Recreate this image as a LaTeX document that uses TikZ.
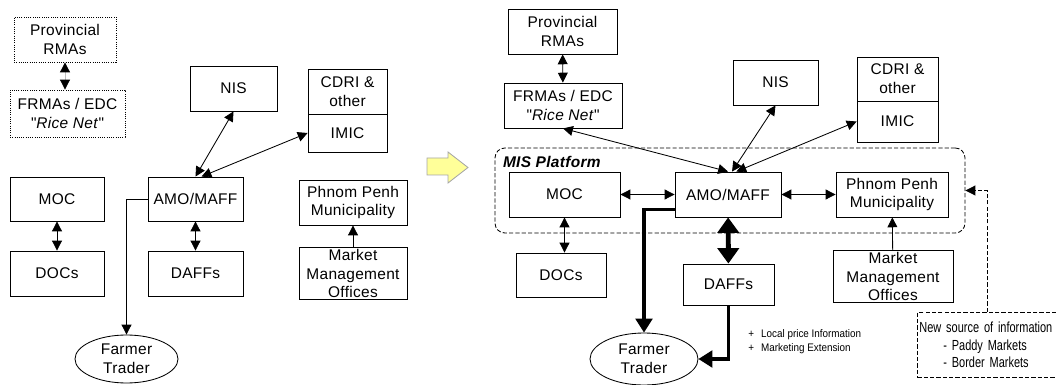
\documentclass[tikz,border=0pt]{standalone}
\usepackage{fontspec}
\setmainfont{Liberation Sans}[LetterSpace=2]
\newfontfamily\narrowfont{Liberation Sans}[FakeStretch=0.75]
\newfontfamily\notefont{Liberation Sans}[FakeStretch=0.9]
\usepackage{tikz}
\usetikzlibrary{arrows.meta, calc, positioning, shapes.geometric}
\definecolor{arrowyellow}{HTML}{FFFF99}
\newcommand{\boxfont}{\fontsize{11}{13.4}\selectfont}

\begin{document}
\begin{tikzpicture}[x=0.025cm, y=-0.025cm, line width=0.6pt,
  >={Triangle[length=7pt,width=7pt]},
  box/.style 2 args={draw, minimum width=#1*0.025cm, minimum height=#2*0.025cm,
    inner sep=1pt, align=center, font=\boxfont},
  oldbox/.style 2 args={box={#1}{#2}, densely dotted},
  farmer/.style 2 args={draw, ellipse, minimum width=#1*0.025cm,
    minimum height=#2*0.025cm, inner sep=1pt, align=center, font=\boxfont},
  strong/.style={line width=2.2pt, -{Triangle[length=10pt,width=12pt]}},
  heavy/.style={line width=3.5pt,
    {Triangle[length=11pt,width=15pt]}-{Triangle[length=11pt,width=15pt]}},
  platform/.style={draw, rounded corners=7pt, dash pattern=on 3pt off 1.5pt,
    inner sep=0pt}
  ]
  \useasboundingbox (0,0) rectangle (1056,385);

  % before
  \node[oldbox={102}{45}] (lprov) at (65,39.5)    {Provincial\\RMAs};
  \node[oldbox={115}{47}] (lfrma) at (67.5,113.5)
    {FRMAs / EDC\\\textquotedbl\textit{Rice Net}\textquotedbl};
  \node[box={87}{45}]     (lnis)  at (233.5,88.5) {NIS};
  \node[box={79}{45}]     (lcdri) at (347.5,91.5) {CDRI \&\\other};
  \node[box={79}{38}]     (limic) at (347.5,133)  {IMIC};
  \node[box={94}{44}]     (lmoc)  at (57,199)     {MOC};
  \node[box={95}{44}]     (lamo)  at (195.5,199)  {AMO/MAFF};
  \node[box={94}{45}]     (ldocs) at (57,273.5)   {DOCs};
  \node[box={95}{45}]     (ldaffs) at (195.5,273.5) {DAFFs};
  \node[box={108}{45}]    (lpp)   at (353,202.5)  {Phnom Penh\\Municipality};
  \node[box={108}{51}]    (lmmo)  at (353,273.5)  {Market\\Management\\Offices};
  \node[farmer={103}{48}] (lfarm) at (126.5,359)  {Farmer\\Trader};

  \draw[gray!50, {Triangle[length=7pt,width=7pt,black]}-{Triangle[length=7pt,width=7pt,black]}]
    (lprov.south) -- (lprov.south |- lfrma.north);
  \path[<->]
    (lamo.north) edge (lnis.south)
    (lamo.75)    edge (limic.west)
    (lmoc)       edge (ldocs)
    (lamo)       edge (ldaffs);
  \draw[->] (lmmo) -- (lpp);
  \draw[->] (lamo.west) -| (lfarm.north);

  \draw[draw=gray!70, fill=arrowyellow]
    (427,158) -- (448,158) -- (448,152) -- (468,167.5) -- (448,183)
    -- (448,175) -- (427,175) -- cycle;

  % after
  \node[platform, minimum width=470*0.025cm, minimum height=85*0.025cm]
    (mis) at (730,190.5) {};
  \node[anchor=north west, inner sep=0pt, font=\boxfont\bfseries\itshape]
    (mislabel) at ($(mis.north west)+(8,8)$) {MIS Platform};

  \node[box={109}{45}]  (rprov) at (562.5,31.5)  {Provincial\\RMAs};
  \node[box={118}{45}]  (rfrma) at (563,105.5)
    {FRMAs / EDC\\\textquotedbl\textit{Rice Net}\textquotedbl};
  \node[box={85}{45}]   (rnis)  at (775.5,82.5)  {NIS};
  \node[box={81}{44}]   (rcdri) at (897.5,79)    {CDRI \&\\other};
  \node[box={81}{41}]   (rimic) at (897.5,121.5) {IMIC};
  \node[box={111}{45}]  (rmoc)  at (564.5,194.5) {MOC};
  \node[box={106}{45}]  (ramo)  at (728,194.5)   {AMO/MAFF};
  \node[box={112}{45}]  (rpp)   at (892,194.5)   {Phnom Penh\\Municipality};
  \node[box={90}{44}]   (rdocs) at (561,275)     {DOCs};
  \node[box={91}{41}]   (rdaffs) at (728.5,284.5) {DAFFs};
  \node[box={120}{51}]  (rmmo)  at (893,276.5)   {Market\\Management\\Offices};
  \node[farmer={108}{52}] (rfarm) at (644,359)   {Farmer\\Trader};

  \node[anchor=north west, draw, dash pattern=on 3pt off 1.5pt, inner xsep=2*0.025cm,
    inner ysep=0pt, text width=150*0.025cm, minimum height=65*0.025cm, align=left,
    font=\narrowfont\fontsize{10.4}{12.4}\selectfont]
    (rnew) at (917,312) {New source of information\\
      \hspace*{17pt}- Paddy Markets\\\hspace*{17pt}- Border Markets};
  \node[anchor=west, inner sep=0pt, align=left,
    font=\notefont\fontsize{7.8}{10}\selectfont]
    (rnote) at (748,342) {+\hspace{5pt}Local price Information\\
      +\hspace{5pt}Marketing Extension};

  \path[<->]
    (rprov)           edge (rfrma)
    (rfrma.south)     edge (ramo.north)
    (rnis.south)      edge (ramo.80)
    (rimic.west)      edge (ramo.70)
    (rmoc)            edge (ramo)
    (ramo)            edge (rpp)
    (rmoc.south)      edge (rmoc.south |- rdocs.north);
  \draw[->] (rmmo) -- (rpp);
  \draw[heavy] (ramo) -- (rdaffs);
  \draw[strong] ($(ramo.south west)+(0,-8)$) -| (rfarm.north);
  \draw[strong] (rdaffs.south) |- (rfarm.east);
  \draw[->, dash pattern=on 3pt off 1.5pt]
    ($(rnew.north west)+(70,0)$) |- (mis.east);
\end{tikzpicture}
\end{document}
